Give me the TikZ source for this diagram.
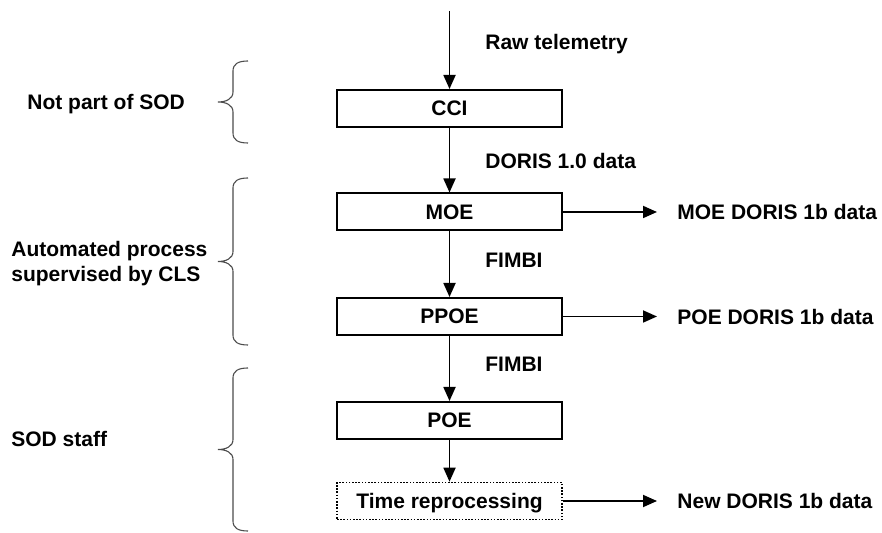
\documentclass[tikz,border=0pt]{standalone}
\usepackage{fontspec}
\setmainfont{Liberation Sans}
\usetikzlibrary{arrows.meta}

\begin{document}
\begin{tikzpicture}[x=0.5pt,y=-0.5pt,
	font=\fontsize{10.5}{12.5}\selectfont\bfseries,
	box/.style={draw,line width=1pt,minimum width=112.5pt,minimum height=18.5pt,inner sep=0pt,text depth=0pt},
	arr/.style={line width=0.9pt,-{Triangle[length=7pt,width=6pt]}},
	lbl/.style={anchor=base west,inner sep=0pt},
	outlbl/.style={anchor=west,inner ysep=0pt,inner xsep=10pt},
	brc/.style={draw=black!70,line width=0.55pt}]
	\useasboundingbox (0,0) rectangle (882,533);
	
	\coordinate (raw) at (449.5,11);
	\node[box] (cci) at (449.5,108.5) {CCI};
	\node[box] (moe) at (449.5,212) {MOE};
	\node[box] (ppoe) at (449.5,316.5) {PPOE};
	\node[box] (poe) at (449.5,420.5) {POE};
	\node[box,line width=0.8pt,dash pattern=on 0.8pt off 0.8pt] (time) at (449.5,501) {Time reprocessing};
	
	\node[lbl] (rawlbl) at (485,50) {Raw telemetry};
	\node[lbl] (dorislbl) at (485,169) {DORIS 1.0 data};
	\node[lbl] (fimbia) at (485,268) {FIMBI};
	\node[lbl] (fimbib) at (485,372) {FIMBI};
	
	\node[outlbl] (moeout) at (657,212) {MOE DORIS 1b data};
	\node[outlbl] (poeout) at (657,316.5) {POE DORIS 1b data};
	\node[outlbl] (newout) at (657,501) {New DORIS 1b data};
	
	\node[lbl] (notsod) at (27,110) {Not part of SOD};
	\node[anchor=west,align=left,inner sep=0pt] (auto) at (11,264) {Automated process\\supervised by CLS};
	\node[lbl] (staff) at (11,446) {SOD staff};
	
	\draw[arr] (raw) -- (cci);
	\draw[arr] (cci) -- (moe);
	\draw[arr] (moe) -- (ppoe);
	\draw[arr] (ppoe) -- (poe);
	\draw[arr] (poe) -- (time);
	\draw[arr] (moe) -- (moeout);
	\draw[arr] (ppoe) -- (poeout);
	\draw[arr] (time) -- (newout);
	
	% braces
	\foreach \t/\b in {61/143,178/345,368/531}{
		\pgfmathsetmacro\m{(\t+\b)/2}
		\draw[brc] (248,\t) .. controls (238,\t) and (233,\t+3) .. (233,\t+10) -- (233,\m-10)
		.. controls (233,\m-3) and (226,\m) .. (218,\m)
		.. controls (226,\m) and (233,\m+3) .. (233,\m+10) -- (233,\b-10)
		.. controls (233,\b-3) and (238,\b) .. (248,\b);
	}
\end{tikzpicture}
\end{document}
